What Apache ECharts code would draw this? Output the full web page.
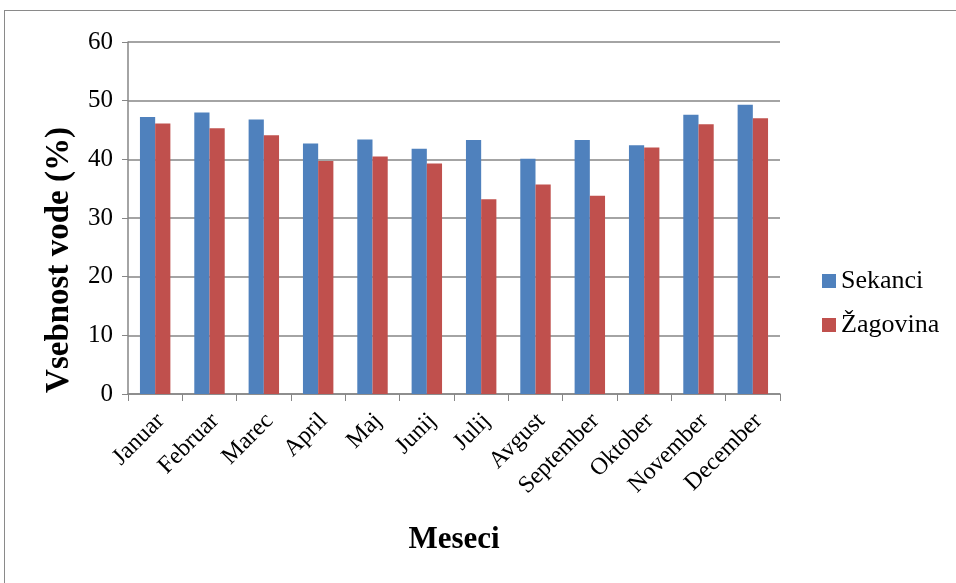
<!DOCTYPE html>
<html>
<head>
<meta charset="utf-8">
<script src="https://cdn.jsdelivr.net/npm/echarts@6/dist/echarts.min.js"></script>
<style>
  html, body { margin: 0; padding: 0; background: #fff; }
  #frame { position: absolute; left: 4px; top: 10px; width: 960px; height: 580px; border: 1px solid #8a8a8a; }
  #chart { position: absolute; left: 0; top: 0; width: 956px; height: 583px; }
</style>
</head>
<body>
<div id="frame"></div>
<div id="chart"></div>
<script>
// mesečne vrednosti
const months = ['Januar', 'Februar', 'Marec', 'April', 'Maj', 'Junij', 'Julij', 'Avgust', 'September', 'Oktober', 'November', 'December'];
const sekanci = [47.2, 48.0, 46.8, 42.7, 43.4, 41.8, 43.3, 40.1, 43.3, 42.4, 47.6, 49.3];
const zagovina = [46.1, 45.3, 44.1, 39.7, 40.5, 39.3, 33.2, 35.7, 33.8, 42.0, 46.0, 47.0];

const font = 'Liberation Serif, Times New Roman, serif';

let chart = echarts.init(document.getElementById('chart'));
let option = {
  animation: false,
  color: ['#4F81BD', '#C0504D'],
  textStyle: { fontFamily: font, color: '#000' },
  grid: { left: 128, right: 176, top: 42, bottom: 189, containLabel: false },
  legend: {
    orient: 'vertical',
    left: 817,
    top: 263,
    itemWidth: 14,
    itemHeight: 14,
    itemGap: 18,
    icon: 'rect',
    textStyle: { fontFamily: font, fontSize: 26, color: '#000' },
    data: ['Sekanci', 'Žagovina']
  },
  xAxis: {
    type: 'category',
    data: months,
    name: 'Meseci',
    nameLocation: 'middle',
    nameGap: 130,
    nameTextStyle: { fontFamily: font, fontSize: 31, fontWeight: 'bold', color: '#000' },
    axisLine: { lineStyle: { color: '#868686', width: 1.5 } },
    axisTick: { show: true, length: 7, lineStyle: { color: '#868686' } },
    axisLabel: { rotate: 45, fontFamily: font, fontSize: 24, color: '#000', margin: 29, padding: [0, -8, 0, 0] }
  },
  yAxis: {
    type: 'value',
    min: 0,
    max: 60,
    interval: 10,
    name: 'Vsebnost vode (%)',
    nameLocation: 'middle',
    nameGap: 52,
    nameTextStyle: { fontFamily: font, fontSize: 33, fontWeight: 'bold', color: '#000', padding: [0, 84, 0, 0] },
    axisLine: { show: true, lineStyle: { color: '#868686', width: 1.5 } },
    axisTick: { show: true, length: 6, lineStyle: { color: '#868686' } },
    axisLabel: { fontFamily: font, fontSize: 25, color: '#000', margin: 15 },
    splitLine: { lineStyle: { color: '#868686', width: 1.5 } }
  },
  series: [
    {
      name: 'Sekanci',
      type: 'bar',
      barGap: '0%',
      barCategoryGap: '44%',
      data: sekanci
    },
    {
      name: 'Žagovina',
      type: 'bar',
      barGap: '0%',
      barCategoryGap: '44%',
      data: zagovina
    }
  ]
};
chart.setOption(option);
</script>
</body>
</html>
